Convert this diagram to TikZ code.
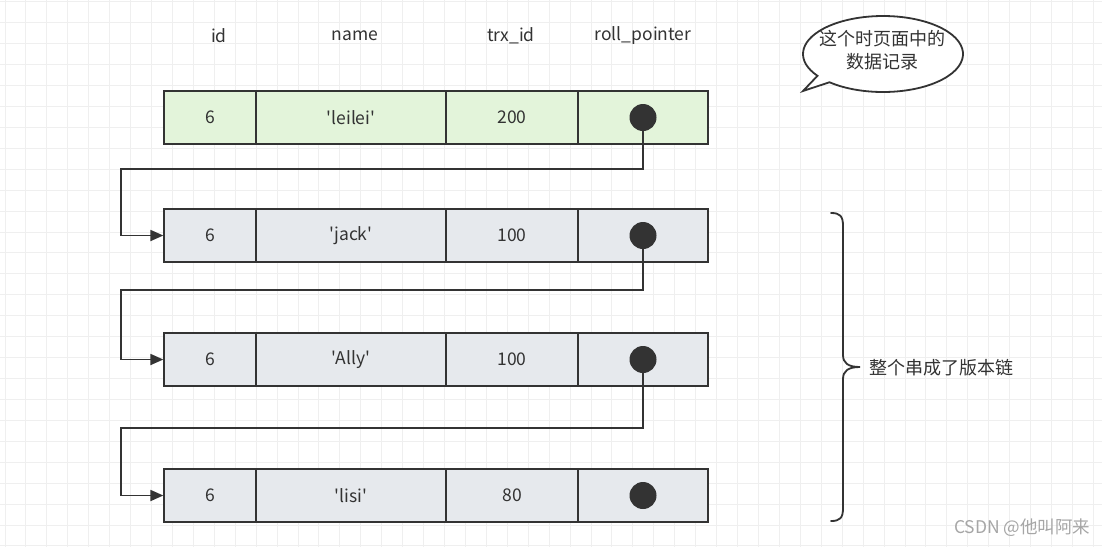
\documentclass[tikz,border=0pt]{standalone}
\usepackage{fontspec}
\newfontfamily\mainf{Noto Sans CJK SC}
\usetikzlibrary{arrows.meta}
\definecolor{ink}{HTML}{333333}
\definecolor{gridc}{HTML}{EFEFEF}
\definecolor{greenf}{HTML}{E3F4DA}
\definecolor{greyf}{HTML}{E6E9ED}
\definecolor{wm}{HTML}{A6A6A6}
\tikzset{
  cellbox/.style={draw=ink, line width=1.3pt, inner sep=0pt, minimum height=53pt, text=ink, font=\mainf\fontsize{17.5}{19}\selectfont},
  hdr/.style={text=ink, font=\mainf\fontsize{17.5}{19}\selectfont},
  dotnode/.style={circle, fill=ink, draw=none, minimum size=27pt, inner sep=0pt},
  conn/.style={draw=ink, line width=1.8pt},
  arr/.style={conn, -{Triangle[length=13pt,width=11pt]}},
}
\begin{document}
\begin{tikzpicture}[x=1pt,y=-1pt]
\useasboundingbox (0,0) rectangle (1102,547);
\fill[white] (0,0) rectangle (1102,547);
% grid
\foreach \i in {0,...,52} {\draw[gridc, line width=1pt] ({5+\i*20.93},0) -- ({5+\i*20.93},547);}
\foreach \j in {0,...,26} {\draw[gridc, line width=1pt] (0,{1.8+\j*20.93}) -- (1102,{1.8+\j*20.93});}

% headers
\node[hdr] (hid) at (219,36) {id};
\node[hdr] (hname) at (355,36) {name};
\node[hdr] (htrx) at (511,36) {trx\_id};
\node[hdr] (hroll) at (643,36) {roll\_pointer};

% rows
\foreach \r/\y/\f/\nm/\trx in {1/117.5/greenf/leilei/200, 2/235.5/greyf/jack/100, 3/359.5/greyf/Ally/100, 4/495.5/greyf/lisi/80} {
  \node[cellbox, fill=\f, minimum width=92pt] (r\r c1) at (210,\y) {6};
  \node[cellbox, fill=\f, minimum width=190pt] (r\r c2) at (351,\y) {'\nm'};
  \node[cellbox, fill=\f, minimum width=132pt] (r\r c3) at (512,\y) {\trx};
  \node[cellbox, fill=\f, minimum width=130pt] (r\r c4) at (643,\y) {};
  \node[dotnode] (d\r) at (643,\y) {};
}

% connectors
\coordinate (k1) at (121,169);
\coordinate (k2) at (121,290);
\coordinate (k3) at (121,428);
\draw[arr] (d1.south) |- (k1) |- (r2c1.west);
\draw[arr] (d2.south) |- (k2) |- (r3c1.west);
\draw[arr] (d3.south) |- (k3) |- (r4c1.west);

% callout
\draw[ink, line width=1.8pt, fill=white] (803,91) -- ({883+80*cos(132)},{54+38*sin(132)})
  arc[start angle=132, end angle=-215, x radius=80, y radius=38] -- cycle;
\node[text=ink, font=\mainf\fontsize{18}{23}\selectfont, align=center] (callout) at (882,50) {这个时页面中的\\数据记录};

% brace
\draw[ink, line width=1.8pt, line cap=round] (831,213) .. controls (840,213) and (843,216) .. (843,226)
  -- (843,355) .. controls (843,363) and (848,367) .. (860,367)
  .. controls (848,367) and (843,371) .. (843,379)
  -- (843,508) .. controls (843,518) and (840,521) .. (831,521);
\node[text=ink, font=\mainf\fontsize{18}{20}\selectfont, anchor=west] (chain) at (866,368) {整个串成了版本链};

% watermark
\node[text=wm, font=\mainf\fontsize{17.5}{19}\selectfont, anchor=east] (wmark) at (1094,528) {CSDN @他叫阿来};
\end{tikzpicture}
\end{document}
